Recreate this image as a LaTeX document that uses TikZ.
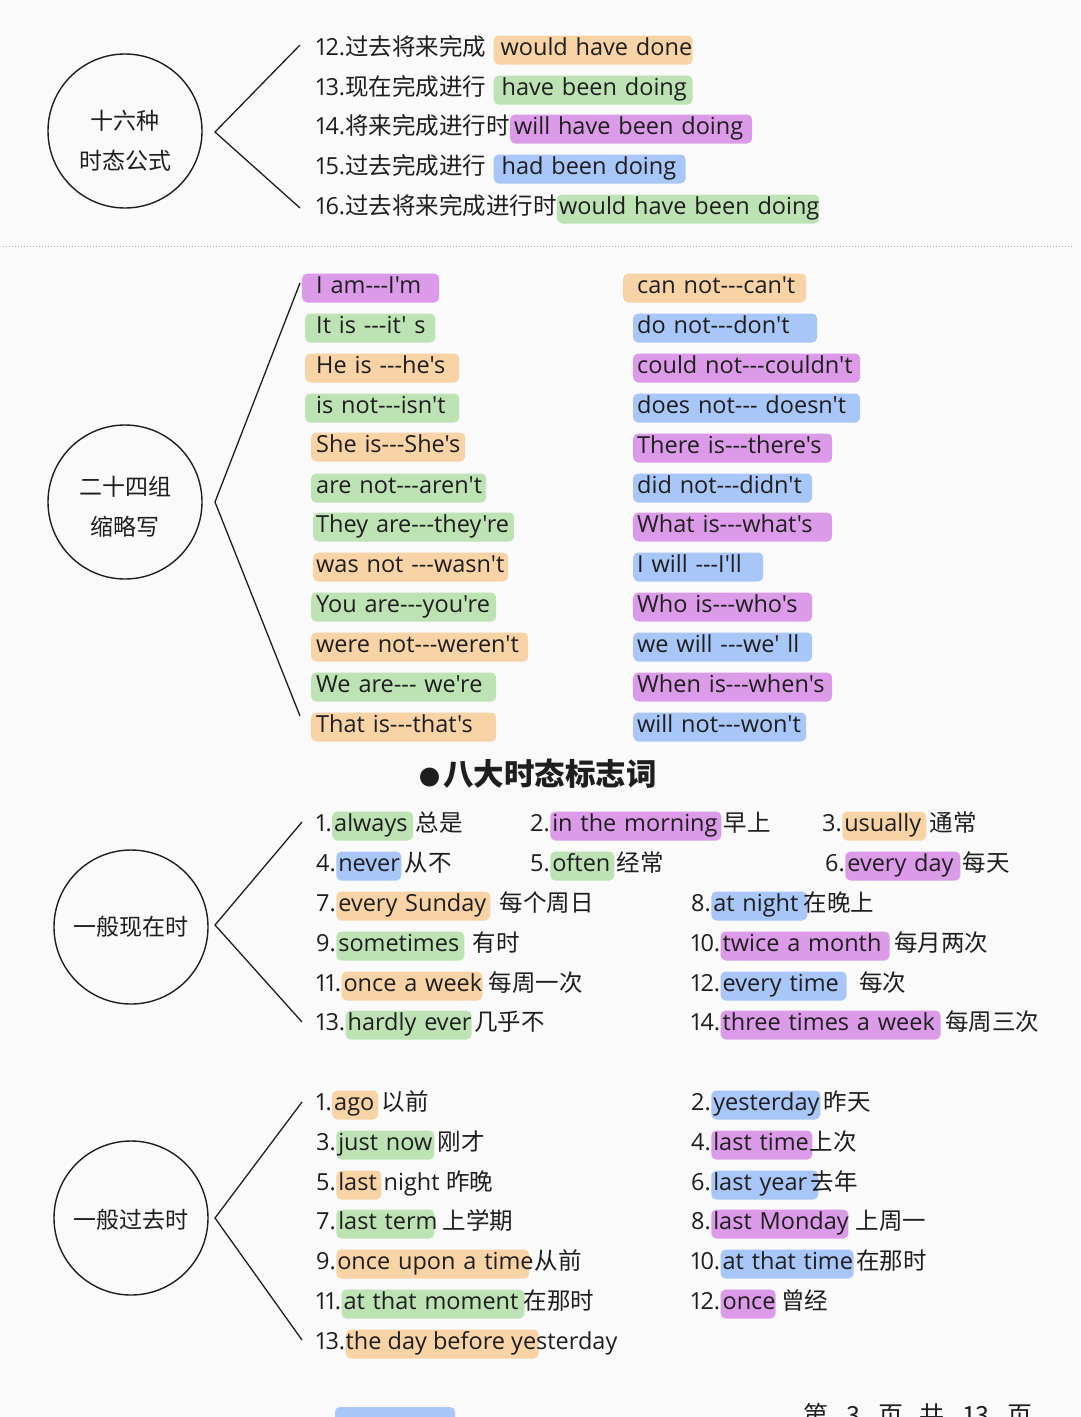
\documentclass[tikz,border=0pt]{standalone}
\usepackage{fontspec}
\setmainfont{Open Sans}[Ligatures=TeXOff,Numbers=Proportional]
\newfontfamily\cn{Noto Sans CJK SC}
\usetikzlibrary{positioning}
\definecolor{co}{HTML}{F8D3A6}
\definecolor{cg}{HTML}{BDE3B4}
\definecolor{cp}{HTML}{DC9BE8}
\definecolor{cb}{HTML}{A8C6F7}
\definecolor{ink}{HTML}{1E1E1E}
\definecolor{bgc}{HTML}{FAFAFA}
\newcommand\trip{-{}-{}-}

\begin{document}
\begin{tikzpicture}[x=1pt,y=-1pt,
  txt/.style={font=\fontsize{23.5}{28}\selectfont,text=ink,text height=17pt,text depth=6pt,inner xsep=0pt,inner ysep=3pt,anchor=west},
  hl/.style n args={3}{txt,fill=#1,rounded corners=5pt,text width=#2,
    execute at begin node={\hbox\bgroup\kern#3},execute at end node={\egroup}},
  hub/.style={circle,draw=ink,line width=1.4pt,minimum size=154pt,inner sep=0pt},
  hubtxt/.style={font=\cn\fontsize{23}{40}\selectfont,align=center,text=ink},
  head/.style={font=\cn\bfseries\fontsize{30.5}{36}\selectfont,text=ink,anchor=west,inner sep=0pt},
  link/.style={draw=ink,line width=1.3pt}]
\useasboundingbox (0,0) rectangle (1080,1417);
\clip (0,0) rectangle (1080,1417);
\fill[bgc] (0,0) rectangle (1080,1417);

% sixteen tense formulas
\node[hub] (h1) at (125,131) {};
\node[hubtxt] (h1t) at (125,141) {十六种\\时态公式};
\coordinate (c1a) at (300,45);
\coordinate (c1v) at (215,132);
\coordinate (c1b) at (300,208);
\draw[link] (c1a) -- (c1v) -- (c1b);
\node[txt] (t12) at (316,50) {12.{\cn 过去将来完成}};
\node[hl={co}{199pt}{7pt},right=7pt of t12] (w12) {would have done};
\node[txt] (t13) at (316,90) {13.{\cn 现在完成进行}};
\node[hl={cg}{199pt}{8pt},right=7pt of t13] (w13) {have been doing};
\node[txt] (t14) at (316,129) {14.{\cn 将来完成进行时}};
\node[hl={cp}{242pt}{4pt},right=0pt of t14] (w14) {will have been doing};
\node[txt] (t15) at (316,169) {15.{\cn 过去完成进行}};
\node[hl={cb}{192pt}{8pt},right=7pt of t15] (w15) {had been doing};
\node[txt] (t16) at (316,209) {16.{\cn 过去将来完成进行时}};
\node[hl={cg}{262pt}{2pt},right=0pt of t16] (w16) {would have been doing};

\coordinate (s1) at (3,246);
\coordinate (s2) at (1073,246);
\draw[gray!70,dotted,line width=1pt] (s1) -- (s2);

% contractions
\node[hub] (h2) at (125,502) {};
\node[hubtxt] (h2t) at (125,507) {二十四组\\缩略写};
\coordinate (c2a) at (300,283);
\coordinate (c2v) at (215,502);
\coordinate (c2b) at (300,716);
\draw[link] (c2a) -- (c2v) -- (c2b);
\node[hl={cp}{137pt}{14pt}] (a1) at (302,288) {I am\trip I'm};
\node[hl={cg}{130pt}{11pt}] (a2) at (305,328) {It is \trip it' s};
\node[hl={co}{154pt}{11pt}] (a3) at (305,368) {He is \trip he's};
\node[hl={cg}{154pt}{11pt}] (a4) at (305,408) {is not\trip isn't};
\node[hl={co}{154pt}{5pt}] (a5) at (311,447) {She is\trip She's};
\node[hl={cg}{175pt}{5pt}] (a6) at (311,488) {are not\trip aren't};
\node[hl={cg}{201pt}{3pt}] (a7) at (313,527) {They are\trip they're};
\node[hl={co}{195pt}{3pt}] (a8) at (313,567) {was not \trip wasn't};
\node[hl={cg}{185pt}{5pt}] (a9) at (311,607) {You are\trip you're};
\node[hl={co}{217pt}{5pt}] (a10) at (311,647) {were not\trip weren't};
\node[hl={cg}{185pt}{5pt}] (a11) at (311,687) {We are\trip{} we're};
\node[hl={co}{185pt}{5pt}] (a12) at (311,727) {That is\trip that's};
\node[hl={co}{183pt}{14pt}] (b1) at (623,288) {can not\trip can't};
\node[hl={cb}{184pt}{4pt}] (b2) at (633,328) {do not\trip don't};
\node[hl={cp}{227pt}{4pt}] (b3) at (633,368) {could not\trip couldn't};
\node[hl={cb}{227pt}{4pt}] (b4) at (633,408) {does not\trip{} doesn't};
\node[hl={cp}{199pt}{4pt}] (b5) at (633,448) {There is\trip there's};
\node[hl={cb}{179pt}{4pt}] (b6) at (633,488) {did not\trip didn't};
\node[hl={cp}{199pt}{4pt}] (b7) at (633,527) {What is\trip what's};
\node[hl={cb}{130pt}{4pt}] (b8) at (633,567) {I will \trip I'll};
\node[hl={cp}{179pt}{4pt}] (b9) at (633,607) {Who is\trip who's};
\node[hl={cb}{179pt}{4pt}] (b10) at (633,647) {we will \trip we' ll};
\node[hl={cp}{199pt}{4pt}] (b11) at (633,687) {When is\trip when's};
\node[hl={cb}{173pt}{4pt}] (b12) at (633,727) {will not\trip won't};

\node[head] (hd) at (419,774) {{\fontsize{21}{21}\selectfont ●}\hspace{3pt}八大时态标志词};

% simple present
\node[hub] (h3) at (131,927) {};
\node[hubtxt] (h3t) at (131,927) {一般现在时};
\coordinate (c3a) at (302,822);
\coordinate (c3v) at (215,925);
\coordinate (c3b) at (302,1022);
\draw[link] (c3a) -- (c3v) -- (c3b);
\node[txt] (n1) at (316,826) {1.};
\node[hl={cg}{81pt}{2pt},right=0pt of n1] (k1) {always};
\node[txt,right=2pt of k1] (z1) {\cn 总是};
\node[txt] (n2) at (530,826) {2.};
\node[hl={cp}{171pt}{2pt},right=0pt of n2] (k2) {in the morning};
\node[txt,right=2pt of k2] (z2) {\cn 早上};
\node[txt] (n3) at (822,826) {3.};
\node[hl={co}{84pt}{2pt},right=0pt of n3] (k3) {usually};
\node[txt,right=3pt of k3] (z3) {\cn 通常};
\node[txt] (n4) at (316,866) {4.};
\node[hl={cb}{65pt}{2pt},right=0pt of n4] (k4) {never};
\node[txt,right=3pt of k4] (z4) {\cn 从不};
\node[txt] (n5) at (530,866) {5.};
\node[hl={cg}{64pt}{2pt},right=0pt of n5] (k5) {often};
\node[txt,right=2pt of k5] (z5) {\cn 经常};
\node[txt] (n6) at (825,866) {6.};
\node[hl={cp}{115pt}{2pt},right=0pt of n6] (k6) {every day};
\node[txt,right=2pt of k6] (z6) {\cn 每天};
\node[txt] (n7) at (316,906) {7.};
\node[hl={co}{154pt}{2pt},right=0pt of n7] (k7) {every Sunday};
\node[txt,right=9pt of k7] (z7) {\cn 每个周日};
\node[txt] (n8) at (691,906) {8.};
\node[hl={cb}{96pt}{2pt},right=0pt of n8] (k8) {at night};
\node[txt,right=-4pt of k8] (z8) {\cn 在晚上};
\node[txt] (n9) at (316,946) {9.};
\node[hl={cg}{128pt}{2pt},right=0pt of n9] (k9) {sometimes};
\node[txt,right=8pt of k9] (z9) {\cn 有时};
\node[txt] (n10) at (691,946) {10.};
\node[hl={cp}{169pt}{2pt},right=0pt of n10] (k10) {twice a month};
\node[txt,right=4pt of k10] (z10) {\cn 每月两次};
\node[txt] (n11) at (316,986) {11.};
\node[hl={co}{141pt}{2pt},right=0pt of n11] (k11) {once a week};
\node[txt,right=6pt of k11] (z11) {\cn 每周一次};
\node[txt] (n12) at (691,986) {12.};
\node[hl={cb}{126pt}{2pt},right=0pt of n12] (k12) {every time};
\node[txt,right=12pt of k12] (z12) {\cn 每次};
\node[txt] (n13) at (316,1025) {13.};
\node[hl={cg}{126pt}{2pt},right=0pt of n13] (k13) {hardly ever};
\node[txt,right=2pt of k13] (z13) {\cn 几乎不};
\node[txt] (n14) at (691,1025) {14.};
\node[hl={cp}{220pt}{2pt},right=0pt of n14] (k14) {three times a week};
\node[txt,right=4pt of k14] (z14) {\cn 每周三次};

% simple past
\node[hub] (h4) at (131,1218) {};
\node[hubtxt] (h4t) at (131,1220) {一般过去时};
\coordinate (c4a) at (302,1102);
\coordinate (c4v) at (215,1218);
\coordinate (c4b) at (302,1340);
\draw[link] (c4a) -- (c4v) -- (c4b);
\node[txt] (m1) at (316,1105) {1.};
\node[hl={co}{46pt}{2pt},right=0pt of m1] (p1) {ago};
\node[txt,right=3pt of p1] (q1) {\cn 以前};
\node[txt] (m2) at (691,1105) {2.};
\node[hl={cb}{109pt}{2pt},right=0pt of m2] (p2) {yesterday};
\node[txt,right=3pt of p2] (q2) {\cn 昨天};
\node[txt] (m3) at (316,1145) {3.};
\node[hl={cg}{98pt}{2pt},right=0pt of m3] (p3) {just now};
\node[txt,right=3pt of p3] (q3) {\cn 刚才};
\node[txt] (m4) at (691,1145) {4.};
\node[hl={cp}{101pt}{2pt},right=0pt of m4] (p4) {last time};
\node[txt,right=-3pt of p4] (q4) {\cn 上次};
\node[txt] (m5) at (316,1185) {5.};
\node[hl={co}{45pt}{2pt},right=0pt of m5] (p5) {last};
\node[txt,right=2pt of p5] (r5) {night};
\node[txt,right=6pt of r5] (q5) {\cn 昨晚};
\node[txt] (m6) at (691,1185) {6.};
\node[hl={cb}{107pt}{2pt},right=0pt of m6] (p6) {last year};
\node[txt,right=-8pt of p6] (q6) {\cn 去年};
\node[txt] (m7) at (316,1224) {7.};
\node[hl={cg}{98pt}{2pt},right=0pt of m7] (p7) {last term};
\node[txt,right=8pt of p7] (q7) {\cn 上学期};
\node[txt] (m8) at (691,1224) {8.};
\node[hl={cp}{137pt}{2pt},right=0pt of m8] (p8) {last Monday};
\node[txt,right=7pt of p8] (q8) {\cn 上周一};
\node[txt] (m9) at (316,1264) {9.};
\node[hl={co}{193pt}{1pt},right=0pt of m9] (p9) {once upon a time};
\node[txt,right=5pt of p9] (q9) {\cn 从前};
\node[txt] (m10) at (691,1264) {10.};
\node[hl={cb}{133pt}{2pt},right=0pt of m10] (p10) {at that time};
\node[txt,right=2pt of p10] (q10) {\cn 在那时};
\node[txt] (m11) at (316,1304) {11.};
\node[hl={cg}{183pt}{2pt},right=0pt of m11] (p11) {at that moment};
\node[txt,right=-1pt of p11] (q11) {\cn 在那时};
\node[txt] (m12) at (691,1304) {12.};
\node[hl={cp}{55pt}{2pt},right=0pt of m12] (p12) {once};
\node[txt,right=5pt of p12] (q12) {\cn 曾经};
\node[txt] (m13) at (316,1344) {13.};
\node[hl={co}{193pt}{0pt},right=0pt of m13] (p13) {};
\node[txt,right=0pt of m13] (r13) {the day before yesterday};

% page footer, cut off
\fill[cb,rounded corners=5pt] (335,1407) rectangle (455,1440);
\node[txt,font=\cn\fontsize{25}{30}\selectfont,anchor=base west,text height=,text depth=] (pg) at (803,1424)
  {第\hspace{18pt}3\hspace{18pt}页\hspace{16pt}共\hspace{18pt}13\hspace{18pt}页};
\end{tikzpicture}
\end{document}
